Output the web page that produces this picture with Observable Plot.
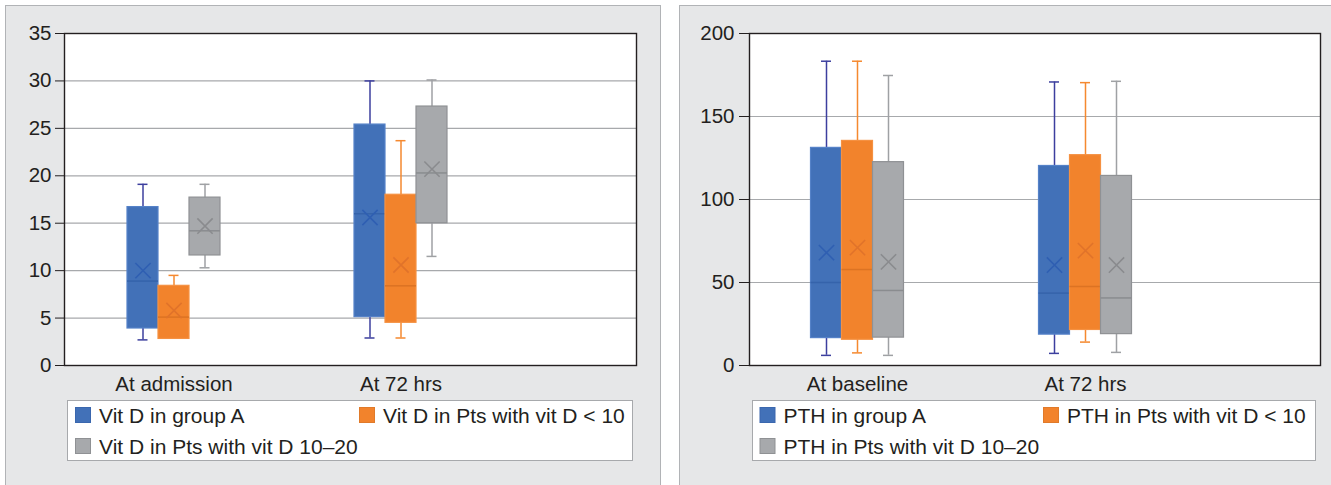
<!DOCTYPE html>
<html><head><meta charset="utf-8">
<script src="https://cdn.jsdelivr.net/npm/d3@7"></script>
<script src="https://cdn.jsdelivr.net/npm/@observablehq/plot@0.6"></script>
<style>
body{margin:0;background:#fff;font-family:"Liberation Sans",Arial,sans-serif;}
#page{position:relative;width:1331px;height:485px;overflow:hidden;}
.panel{position:absolute;background:#e6e7e8;border:1px solid #b1b3b6;box-sizing:border-box;}
.chart{position:absolute;top:0;}
.legend{position:absolute;top:400px;height:61px;}
</style>
</head><body>
<div id="page">
  <div class="panel" style="left:5px;top:5px;width:656px;height:520px"></div>
  <div class="panel" style="left:679px;top:5px;width:700px;height:520px"></div>
  <div id="c1" class="chart" style="left:0px"></div>
  <div id="c2" class="chart" style="left:679px"></div>
  <div id="l1" class="legend" style="left:67px"></div>
  <div id="l2" class="legend" style="left:752px"></div>
</div>
<script>
// ---------- data ----------
const vitCategories = ["At admission", "At 72 hrs"];
const pthCategories = ["At baseline", "At 72 hrs"];
const vitLabels = ["Vit D in group A", "Vit D in Pts with vit D < 10", "Vit D in Pts with vit D 10–20"];
const pthLabels = ["PTH in group A", "PTH in Pts with vit D < 10", "PTH in Pts with vit D 10–20"];
const vitYTicks = [0, 5, 10, 15, 20, 25, 30, 35];
const pthYTicks = [0, 50, 100, 150, 200];

// rows: series (group A, <10, 10–20); columns: categories
const vitMin    = [[2.7, 2.9], [2.8, 2.9], [10.3, 11.5]];
const vitQ1     = [[3.9, 5.1], [2.8, 4.5], [11.6, 15.0]];
const vitMedian = [[8.9, 16.0], [5.1, 8.4], [14.2, 20.3]];
const vitQ3     = [[16.7, 25.4], [8.4, 18.0], [17.7, 27.3]];
const vitMax    = [[19.1, 30.0], [9.5, 23.7], [19.1, 30.1]];
const vitMean   = [[10.0, 15.6], [5.8, 10.6], [14.7, 20.7]];

const pthMin    = [[6.1, 7.3], [7.6, 14.1], [6.1, 7.9]];
const pthQ1     = [[16.5, 18.6], [15.5, 21.4], [16.8, 18.9]];
const pthMedian = [[50.0, 43.6], [57.8, 47.6], [45.2, 40.7]];
const pthQ3     = [[131.1, 120.2], [135.3, 126.7], [122.5, 114.2]];
const pthMax    = [[183.3, 170.8], [183.3, 170.4], [174.7, 171.2]];
const pthMean   = [[68.0, 60.5], [71.0, 69.2], [62.4, 60.5]];

// ---------- styles ----------
const fills    = ["#4271b8", "#f2832c", "#a7a9ac"];
const strokes  = ["#5582c8", "#f59142", "#8f9194"];
const medians  = ["#3563ab", "#dc7323", "#8a8c8f"];
const means    = ["#2f5fb2", "#e0732a", "#8a8b8e"];
const whiskers = ["#3c3f9e", "#f5892f", "#9fa1a4"];
const swatchStrokes = ["#3a67ae", "#e07a2a", "#8f9194"];

function rowsFor(cats, mins, q1s, meds, q3s, maxs, mns, s) {
  return cats.map((c, j) => ({cat: c, min: mins[s][j], q1: q1s[s][j], med: meds[s][j],
    q3: q3s[s][j], max: maxs[s][j], mean: mns[s][j]}));
}

function boxChart(cfg) {
  const {cats, mins, q1s, meds, q3s, maxs, mns, yTicks, yMax, width, margins, xRange, offs, boxW, tickSize, tickPadding} = cfg;
  const half = (xRange[1] - xRange[0]) / cats.length / 2;
  const marks = [
    Plot.frame({fill: "white", stroke: "none"}),
    Plot.gridY(yTicks, {stroke: "#a7a9ac", strokeOpacity: 1, strokeWidth: 1.2})
  ];
  offs.forEach((off, s) => {
    const rows = rowsFor(cats, mins, q1s, meds, q3s, maxs, mns, s);
    const capIn = {insetLeft: half + off - 5, insetRight: half - off - 5};
    const boxIn = {insetLeft: half + off - boxW / 2, insetRight: half - off - boxW / 2};
    marks.push(
      Plot.ruleX(rows, {x: "cat", y1: "min", y2: "max", dx: off, stroke: whiskers[s], strokeWidth: 1.5}),
      Plot.tickY(rows, {x: "cat", y: "max", ...capIn, stroke: whiskers[s], strokeWidth: 1.5}),
      Plot.tickY(rows.filter(d => d.min < d.q1), {x: "cat", y: "min", ...capIn, stroke: whiskers[s], strokeWidth: 1.5}),
      Plot.barY(rows, {x: "cat", y1: "q1", y2: "q3", ...boxIn, fill: fills[s], stroke: strokes[s], strokeWidth: 1.2}),
      Plot.tickY(rows, {x: "cat", y: "med", ...boxIn, stroke: medians[s], strokeWidth: 1.5}),
      Plot.dot(rows, {x: "cat", y: "mean", dx: off, symbol: "times", r: 7, stroke: means[s], strokeWidth: 1.6})
    );
  });
  marks.push(Plot.frame({stroke: "#231f20", strokeWidth: 1.4}));
  return Plot.plot({
    width, height: 400,
    marginTop: margins[0], marginRight: margins[1], marginBottom: margins[2], marginLeft: margins[3],
    style: {background: "transparent", fontFamily: "'Liberation Sans', Arial, sans-serif", fontSize: "20.5px", color: "#231f20", overflow: "visible"},
    x: {type: "band", domain: cats, range: xRange, padding: 0, tickSize: 0, tickPadding: 11, label: null},
    y: {domain: [0, yMax], ticks: yTicks, tickSize, tickPadding, label: null},
    marks
  });
}

document.getElementById("c1").append(boxChart({
  cats: vitCategories, mins: vitMin, q1s: vitQ1, meds: vitMedian, q3s: vitQ3, maxs: vitMax, mns: vitMean,
  yTicks: vitYTicks, yMax: 35, width: 661, margins: [33, 25, 35, 64], xRange: [59.5, 513.5],
  offs: [-31, 0, 31], boxW: 31, tickSize: 9, tickPadding: 4
}));
document.getElementById("c2").append(boxChart({
  cats: pthCategories, mins: pthMin, q1s: pthQ1, meds: pthMedian, q3s: pthQ3, maxs: pthMax, mns: pthMean,
  yTicks: pthYTicks, yMax: 200, width: 652, margins: [33, 11, 35, 70], xRange: [64, 520],
  offs: [-31, 0, 31], boxW: 31, tickSize: 10, tickPadding: 5
}));

function legend(el, labels, w, colX) {
  const svg = d3.select(el).append("svg").attr("width", w).attr("height", 61)
    .style("display", "block");
  svg.append("rect").attr("x", 0.5).attr("y", 0.5).attr("width", w - 1).attr("height", 60)
    .attr("fill", "#fff").attr("stroke", "#a7a9ac");
  const rowY = [7, 38], baseY = [23, 53.5];
  labels.forEach((lab, i) => {
    const cx = colX[i % 2], r = Math.floor(i / 2);
    const g = svg.append("g");
    g.append("rect").attr("x", cx + 0.5).attr("y", rowY[r] + 0.5).attr("width", 15).attr("height", 15)
      .attr("fill", fills[i]).attr("stroke", swatchStrokes[i]);
    g.append("text").attr("x", cx + 24).attr("y", baseY[r])
      .attr("font-size", 21).attr("fill", "#231f20")
      .attr("font-family", "'Liberation Sans', Arial, sans-serif").text(lab);
  });
}
legend("#l1", vitLabels, 566, [8, 292]);
legend("#l2", pthLabels, 564, [7.5, 291]);
</script>
</body></html>
